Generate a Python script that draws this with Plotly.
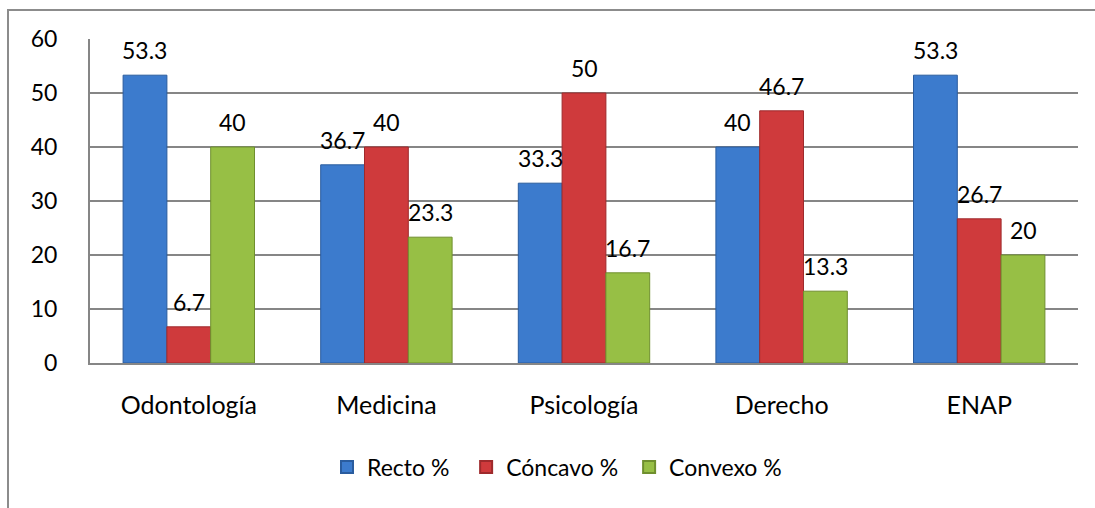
import plotly.graph_objects as go

# Chart data
categories = ["Odontología", "Medicina", "Psicología", "Derecho", "ENAP"]
series_names = ["Recto %", "Cóncavo %", "Convexo %"]
recto = [53.3, 36.7, 33.3, 40, 53.3]
concavo = [6.7, 40, 50, 46.7, 26.7]
convexo = [40, 23.3, 16.7, 13.3, 20]
y_ticks = [0, 10, 20, 30, 40, 50, 60]

series_values = [recto, concavo, convexo]
fill_colors = ["#3C7BCD", "#CF3A3C", "#97BF45"]
edge_colors = ["#2A5C9E", "#9E2A2C", "#6F8F2E"]
# extra non-breaking padding after each legend entry
legend_pad = ["\u00a0\u00a0", "\u00a0", ""]

FONT = "Lato"
FS = 23
W, H = 1095, 508
M_L, M_R, M_T, M_B = 90, 17, 39, 145
plot_w = W - M_L - M_R
plot_h = H - M_T - M_B

fig = go.Figure()
for name, vals, fc, ec, pad in zip(series_names, series_values, fill_colors,
                                   edge_colors, legend_pad):
    fig.add_trace(go.Bar(
        x=categories, y=vals, name=name + pad,
        marker=dict(color=fc, line=dict(color=ec, width=1)),
        hovertemplate=name + ": %{y}<extra>%{x}</extra>",
    ))

# Value labels above each bar, offset to the bar's slot within its group
bargap = 0.335
group_px = plot_w / len(categories) * (1 - bargap)
bar_px = group_px / len(series_names)
annotations = []
for i, vals in enumerate(series_values):
    offset = (i - (len(series_names) - 1) / 2) * bar_px
    for cat, v in zip(categories, vals):
        annotations.append(dict(
            x=cat, y=v, xref="x", yref="y", text=f"{v:g}",
            showarrow=False, xshift=offset, yshift=25,
            xanchor="center", yanchor="middle",
            font=dict(family=FONT, size=FS, color="#000000"),
        ))

fig.update_layout(
    width=W, height=H,
    margin=dict(l=M_L, r=M_R, t=M_T, b=M_B),
    paper_bgcolor="white", plot_bgcolor="white",
    barmode="group", bargap=bargap, bargroupgap=0,
    font=dict(family=FONT, size=FS, color="#000000"),
    showlegend=True,
    legend=dict(
        orientation="h", x=(341 - M_L - 14) / plot_w, xanchor="left",
        y=(plot_h - (467 - M_T)) / plot_h, yanchor="middle",
        font=dict(family=FONT, size=FS), bgcolor="rgba(0,0,0,0)",
        itemsizing="constant", traceorder="normal",
    ),
    xaxis=dict(
        showgrid=False, showline=True, linecolor="#868686", linewidth=2,
        ticks="", ticklabelstandoff=19, tickfont=dict(family=FONT, size=25),
        range=[-0.5, len(categories) - 0.5],
    ),
    yaxis=dict(
        range=[0, 60], tickvals=y_ticks, showgrid=True, gridcolor="#868686",
        gridwidth=1.5, showline=True, linecolor="#868686", linewidth=2,
        zeroline=False, ticks="", ticklabelstandoff=26,
        tickfont=dict(family=FONT, size=FS),
    ),
    annotations=annotations,
    shapes=[dict(
        type="rect", xref="paper", yref="paper",
        x0=(8 - M_L) / plot_w, x1=(W + 20 - M_L) / plot_w,
        y0=(plot_h - (H + 20 - M_T)) / plot_h, y1=(plot_h - (10 - M_T)) / plot_h,
        line=dict(color="#8C8C8C", width=2), fillcolor="rgba(0,0,0,0)",
        layer="below",
    )],
)

fig.write_html("out.html")
